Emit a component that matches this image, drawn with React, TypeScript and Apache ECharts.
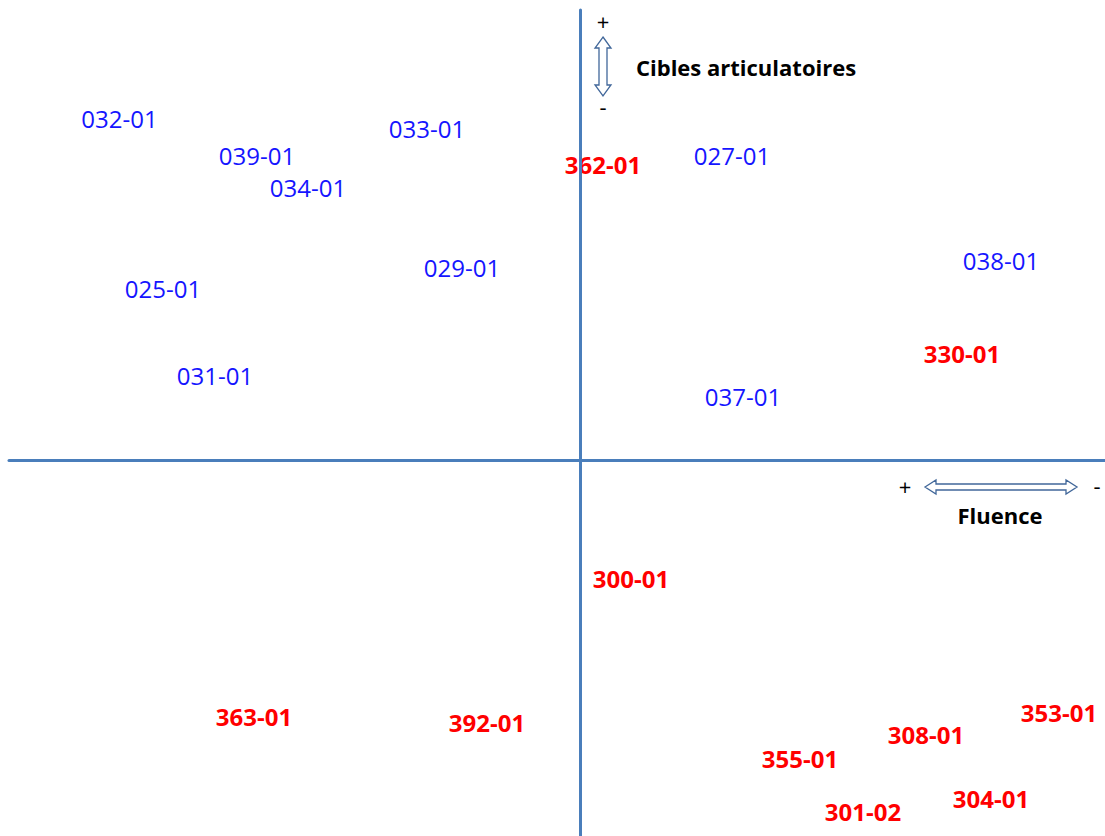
import React, { useEffect, useRef } from "react";
import * as echarts from "echarts";

const blueNames = ["032-01", "039-01", "033-01", "034-01", "027-01", "029-01", "025-01", "038-01", "031-01", "037-01"];
const blueX = [-46.05, -32.3, -15.3, -27.2, 15.2, -11.8, -41.7, 42.1, -36.5, 16.3];
const blueY = [34.2, 30.5, 33.2, 27.3, 30.5, 19.3, 17.2, 20.0, 8.5, 6.4];

const redNames = ["362-01", "330-01", "300-01", "363-01", "392-01", "353-01", "308-01", "355-01", "304-01", "301-02"];
const redX = [2.3, 38.2, 5.1, -32.6, -9.3, 47.9, 34.6, 22.0, 41.1, 28.3];
const redY = [29.6, 10.7, -11.8, -25.6, -26.2, -25.2, -27.4, -29.8, -33.8, -35.1];

const xTitle = "Fluence";
const yTitle = "Cibles articulatoires";

const FONT = "'Open Sans', 'Noto Sans', sans-serif";
const AXIS_COLOR = "#4a7ebb";
const ARROW_COLOR = "#41679a";

function buildData(names: string[], xs: number[], ys: number[]) {
  return names.map((n, i) => ({ name: n, value: [xs[i], ys[i]] }));
}

export default function App() {
  const ref = useRef<HTMLDivElement>(null);
  useEffect(() => {
    if (!ref.current) return;
    const chart = echarts.init(ref.current, undefined, { renderer: "svg" });
    const axisLineStyle = { color: AXIS_COLOR, width: 3 };
    const labelBase = {
      show: true,
      position: "inside" as const,
      formatter: (p: any) => p.name,
      fontFamily: FONT,
      fontSize: 24,
      opacity: 1,
    };
    const signFont = `22px ${FONT}`;
    chart.setOption({
      animation: false,
      backgroundColor: "#ffffff",
      grid: { left: 9, right: 0, top: 10, bottom: 0, containLabel: false },
      xAxis: {
        type: "value",
        min: -57.1,
        max: 52.5,
        z: 3,
        axisLine: { show: true, onZero: true, lineStyle: axisLineStyle },
        axisTick: { show: false },
        axisLabel: { show: false },
        splitLine: { show: false },
      },
      yAxis: {
        type: "value",
        min: -37.6,
        max: 45,
        z: 3,
        axisLine: { show: true, onZero: true, lineStyle: axisLineStyle },
        axisTick: { show: false },
        axisLabel: { show: false },
        splitLine: { show: false },
      },
      series: [
        {
          type: "scatter",
          symbolSize: 1,
          itemStyle: { color: "rgba(0,0,0,0)", opacity: 1 },
          data: buildData(blueNames, blueX, blueY),
          label: { ...labelBase, color: "#1515ff", fontWeight: "normal" },
          z: 2,
        },
        {
          type: "scatter",
          symbolSize: 1,
          itemStyle: { color: "rgba(0,0,0,0)", opacity: 1 },
          data: buildData(redNames, redX, redY),
          label: { ...labelBase, color: "#ff0000", fontWeight: "bold" },
          z: 2,
        },
      ],
      graphic: [
        {
          type: "polygon",
          shape: {
            points: [
              [603, 37], [611, 48], [607, 48], [607, 85], [611, 85],
              [603, 96], [595, 85], [599, 85], [599, 48], [595, 48],
            ],
          },
          style: { fill: "#ffffff", stroke: ARROW_COLOR, lineWidth: 1.3 },
          z: 10,
        },
        {
          type: "polygon",
          shape: {
            points: [
              [925, 487], [936, 480], [936, 484], [1066, 484], [1066, 480],
              [1077, 487], [1066, 494], [1066, 490], [936, 490], [936, 494],
            ],
          },
          style: { fill: "#ffffff", stroke: ARROW_COLOR, lineWidth: 1.3 },
          z: 10,
        },
        {
          type: "text",
          x: 603, y: 21,
          style: { text: "+", fill: "#000", font: signFont, align: "center", verticalAlign: "middle" },
          z: 10,
        },
        {
          type: "text",
          x: 603, y: 106,
          style: { text: "-", fill: "#000", font: signFont, align: "center", verticalAlign: "middle" },
          z: 10,
        },
        {
          type: "text",
          x: 905, y: 486,
          style: { text: "+", fill: "#000", font: signFont, align: "center", verticalAlign: "middle" },
          z: 10,
        },
        {
          type: "text",
          x: 1097, y: 485,
          style: { text: "-", fill: "#000", font: signFont, align: "center", verticalAlign: "middle" },
          z: 10,
        },
        {
          type: "text",
          x: 636, y: 67,
          style: { text: yTitle, fill: "#000", font: `bold 22px ${FONT}`, align: "left", verticalAlign: "middle" },
          z: 10,
        },
        {
          type: "text",
          x: 1000, y: 515,
          style: { text: xTitle, fill: "#000", font: `bold 22px ${FONT}`, align: "center", verticalAlign: "middle" },
          z: 10,
        },
      ],
    });
    return () => chart.dispose();
  }, []);
  return (
    <div
      ref={ref}
      style={{ position: "fixed", left: 0, top: 0, width: 1105, height: 836, background: "#fff" }}
    />
  );
}
